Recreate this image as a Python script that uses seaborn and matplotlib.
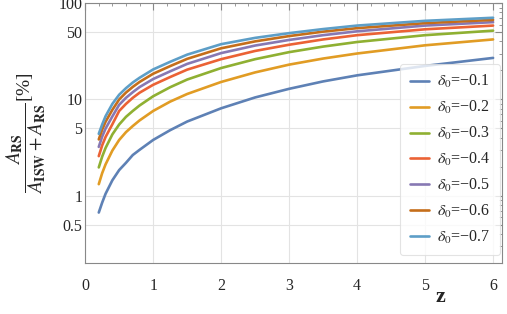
import numpy as np
import pandas as pd
import matplotlib
matplotlib.use("Agg")
import matplotlib.pyplot as plt
import seaborn as sns
from matplotlib.ticker import FixedLocator, FixedFormatter, NullFormatter, MultipleLocator

# values (percent)
z = [0.2, 0.25, 0.3, 0.4, 0.5, 0.6, 0.7, 0.8, 1.0, 1.25, 1.5, 2.0, 2.5, 3.0, 3.5, 4.0, 5.0, 6.0]
d01 = [0.67, 0.85, 1.05, 1.45, 1.85, 2.2, 2.65, 3.0, 3.8, 4.8, 5.9, 8.1, 10.5, 12.9, 15.4, 17.8, 22.3, 27.0]
d02 = [1.32, 1.72, 2.12, 2.95, 3.8, 4.58, 5.3, 6.06, 7.6, 9.5, 11.4, 15.2, 19.1, 23.0, 26.6, 30.0, 36.5, 42.0]
d03 = [1.97, 2.55, 3.14, 4.34, 5.5, 6.6, 7.6, 8.66, 10.8, 13.4, 16.1, 21.2, 26.2, 31.0, 35.4, 39.5, 46.5, 51.8]
d04 = [2.58, 3.34, 4.08, 5.53, 7.6, 9.0, 10.4, 11.75, 14.2, 17.1, 20.4, 26.2, 31.9, 37.0, 42.0, 46.5, 53.5, 58.5]
d05 = [3.22, 4.12, 4.99, 6.67, 8.8, 10.4, 11.9, 13.45, 16.3, 19.6, 23.4, 30.3, 36.3, 41.5, 46.5, 51.0, 58.5, 63.5]
d06 = [3.85, 4.87, 5.87, 7.81, 10.0, 11.8, 13.5, 15.2, 18.5, 22.2, 26.4, 34.0, 40.1, 45.5, 50.6, 55.0, 62.0, 67.0]
d07 = [4.4, 5.5, 6.7, 9.0, 11.2, 13.1, 15.0, 16.8, 20.5, 24.6, 29.2, 37.5, 43.6, 48.8, 53.8, 58.5, 65.5, 70.5]

labels = ["$\\delta_0$=\u22120.1", "$\\delta_0$=\u22120.2", "$\\delta_0$=\u22120.3",
          "$\\delta_0$=\u22120.4", "$\\delta_0$=\u22120.5", "$\\delta_0$=\u22120.6",
          "$\\delta_0$=\u22120.7"]
series = [d01, d02, d03, d04, d05, d06, d07]
colors = ["#5E81B5", "#E19C24", "#8FB032", "#EB6235", "#8778B3", "#C56E1A", "#5D9EC7"]

rows = []
for lab, vals in zip(labels, series):
    for zz, v in zip(z, vals):
        rows.append({"z": zz, "ratio": v, "delta": lab})
df = pd.DataFrame(rows)

sns.set_style("white")
plt.rcParams["font.family"] = ["Liberation Serif", "DejaVu Serif"]
plt.rcParams["mathtext.fontset"] = "stix"

fig = plt.figure(figsize=(5.07, 3.14), dpi=100)
ax = fig.add_axes([0.168, 0.162, 0.822, 0.828])

sns.lineplot(data=df, x="z", y="ratio", hue="delta", palette=colors, ax=ax,
             linewidth=1.9, legend=True)

ax.set_yscale("log")
ax.set_xlim(0, 6.13)
ax.set_ylim(0.2, 100)

ax.xaxis.set_major_locator(MultipleLocator(1))
ax.xaxis.set_minor_locator(MultipleLocator(0.2))
ax.yaxis.set_major_locator(FixedLocator([0.5, 1, 5, 10, 50, 100]))
ax.yaxis.set_major_formatter(FixedFormatter(["0.5", "1", "5", "10", "50", "100"]))
minor_y = [0.2, 0.3, 0.4, 0.6, 0.7, 0.8, 0.9, 2, 3, 4, 6, 7, 8, 9, 20, 30, 40, 60, 70, 80, 90]
ax.yaxis.set_minor_locator(FixedLocator(minor_y))
ax.yaxis.set_minor_formatter(NullFormatter())

ax.tick_params(which="both", direction="in", top=True, right=True, color="#888888",
               labelsize=11.5)
ax.tick_params(which="major", length=5, width=0.8)
ax.tick_params(which="minor", length=2.5, width=0.6)
ax.tick_params(axis="x", pad=11)
ax.tick_params(axis="y", pad=2)

ax.grid(True, which="major", color="#e3e3e3", linewidth=0.8)
for s in ax.spines.values():
    s.set_color("#888888")
    s.set_linewidth(0.8)

ax.set_xlabel("")
ax.set_ylabel("")
fig.text(0.868, 0.055, "z", fontsize=16, fontweight="bold", ha="center", va="center")
fig.text(0.052, 0.575, "$\\dfrac{A_{\\mathbf{RS}}}{A_{\\mathbf{ISW}}+A_{\\mathbf{RS}}}$[%]",
         fontsize=14, rotation=90, ha="center", va="center")

leg = ax.legend(loc="lower right", bbox_to_anchor=(0.995, 0.03), borderaxespad=0,
                frameon=True, fancybox=True, fontsize=11.5, handlelength=1.2,
                labelspacing=0.55, handletextpad=0.5, borderpad=0.6)
leg.get_frame().set_edgecolor("#dddddd")
leg.get_frame().set_linewidth(0.8)

fig.savefig("out.png", dpi=100)
